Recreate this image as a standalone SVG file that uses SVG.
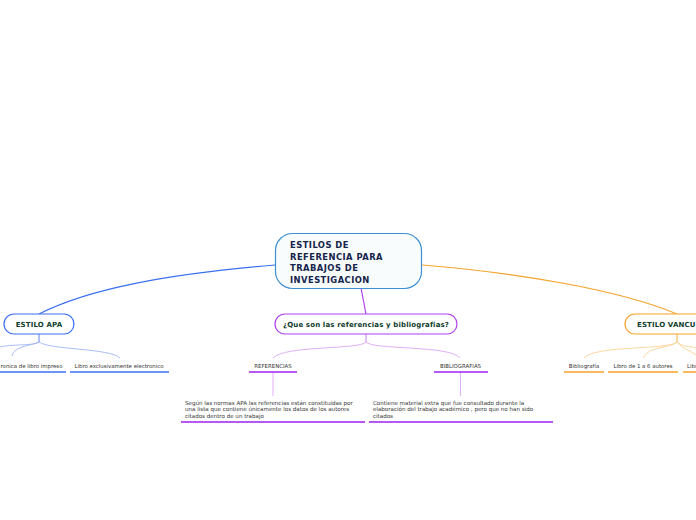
<svg xmlns="http://www.w3.org/2000/svg" width="696" height="520" viewBox="0 0 696 520">
<style>
.title{font-family:"DejaVu Sans",Verdana,sans-serif;font-weight:bold;font-size:8.4px;letter-spacing:0.45px;fill:#14244a}
.main{font-family:"DejaVu Sans",Verdana,sans-serif;font-weight:bold;font-size:7px;letter-spacing:0.15px;fill:#0f3d2c}
.sub{font-family:"DejaVu Sans",Verdana,sans-serif;font-size:5.4px;fill:#333}
.par{font-family:"DejaVu Sans",Verdana,sans-serif;font-size:5.55px;fill:#333}
.c{fill:none;stroke-width:1.2}
</style>
<rect width="696" height="520" fill="#fff"/>
<g id="connectors">
<path class="c" stroke="#3b6ff2" d="M275,265 C170,274 90,288 39,314"/>
<path class="c" stroke="#b040f0" d="M361,288 L366,314"/>
<path class="c" stroke="#f5a32a" d="M422,265 C520,273 620,290 677,314"/>
<g stroke="#9fb4f5" fill="none" stroke-width="0.9">
<path d="M39,334 V342 C35,346 10,344 0,347"/>
<path d="M39,334 V342 C30,346 14,346 12,356"/>
<path d="M39,334 V342 C50,350 110,348 120,358"/>
</g>
<g stroke="#dca5f6" fill="none" stroke-width="0.9">
<path d="M366,333 V342 C360,350 285,345 273,358"/>
<path d="M366,333 V342 C372,350 450,345 460,358"/>
<path d="M273,372 V396"/>
<path d="M460.5,372 V396"/>
</g>
<g stroke="#fcd393" fill="none" stroke-width="0.9">
<path d="M677,334 V342 C670,350 595,345 584,358"/>
<path d="M677,334 V342 C672,348 648,346 643,358"/>
<path d="M677,334 V342 C682,347 690,346 696,348"/>
<path d="M677,334 V342 C684,350 694,352 700,358"/>
</g>
</g>
<g id="central">
<rect x="275.5" y="233.5" width="146" height="55" rx="17" fill="#f8fcfd" stroke="#3d90d2" stroke-width="1.2"/>
<text class="title" x="290" y="248">ESTILOS DE</text>
<text class="title" x="290" y="259.5">REFERENCIA PARA</text>
<text class="title" x="290" y="271">TRABAJOS DE</text>
<text class="title" x="290" y="282.5">INVESTIGACION</text>
</g>
<g id="apa">
<rect x="4" y="314" width="70" height="20" rx="10" fill="#fff" stroke="#3b6ff2" stroke-width="1.2"/>
<text class="main" x="39" y="326.5" text-anchor="middle">ESTILO APA</text>
</g>
<g id="apa-impreso">
<text class="sub" x="0.5" y="368">ronica de libro impreso</text>
<path d="M0,372 H66" stroke="#3b6ff2" stroke-width="1.5"/>
</g>
<g id="apa-electronico">
<text class="sub" x="74.5" y="368">Libro exclusivamente electronico</text>
<path d="M70,372 H169" stroke="#3b6ff2" stroke-width="1.5"/>
</g>
<g id="que-son">
<rect x="275" y="314" width="182" height="20" rx="10" fill="#fff" stroke="#b040f0" stroke-width="1.2"/>
<text class="main" x="366" y="326.5" text-anchor="middle">¿Que son las referencias y bibliografias?</text>
</g>
<g id="referencias">
<text class="sub" x="273" y="368" text-anchor="middle">REFERENCIAS</text>
<path d="M249,372 H297" stroke="#a020f0" stroke-width="1.5"/>
</g>
<g id="bibliografias">
<text class="sub" x="460.5" y="368" text-anchor="middle">BIBLIOGRAFIAS</text>
<path d="M434,372 H488" stroke="#a020f0" stroke-width="1.5"/>
</g>
<g id="ref-def">
<text class="par" x="185" y="404.5">Según las normas APA las referencias están constituidas por</text>
<text class="par" x="185" y="411">una lista que contiene únicamente los datos de los autores</text>
<text class="par" x="185" y="417.5">citados dentro de un trabajo</text>
<path d="M181,422 H365" stroke="#a020f0" stroke-width="1.5"/>
</g>
<g id="bib-def">
<text class="par" x="373" y="404.5">Contiene material extra que fue consultado durante la</text>
<text class="par" x="373" y="411">elaboración del trabajo académico , pero que no han sido</text>
<text class="par" x="373" y="417.5">citados</text>
<path d="M369,422 H553" stroke="#a020f0" stroke-width="1.5"/>
</g>
<g id="vancouver">
<rect x="625" y="314" width="110" height="20" rx="10" fill="#fff" stroke="#f5a32a" stroke-width="1.2"/>
<text class="main" x="637" y="326.5">ESTILO VANCU</text>
</g>
<g id="van-bibliografia">
<text class="sub" x="584" y="368" text-anchor="middle">Bibliografía</text>
<path d="M564,372 H604" stroke="#f5a32a" stroke-width="1.5"/>
</g>
<g id="van-libro">
<text class="sub" x="643" y="368" text-anchor="middle">Libro de 1 a 6 autores</text>
<path d="M608,372 H678" stroke="#f5a32a" stroke-width="1.5"/>
</g>
<g id="van-libr">
<text class="sub" x="687" y="368">Libr</text>
<path d="M683,372 H700" stroke="#f5a32a" stroke-width="1.5"/>
</g>
</svg>
